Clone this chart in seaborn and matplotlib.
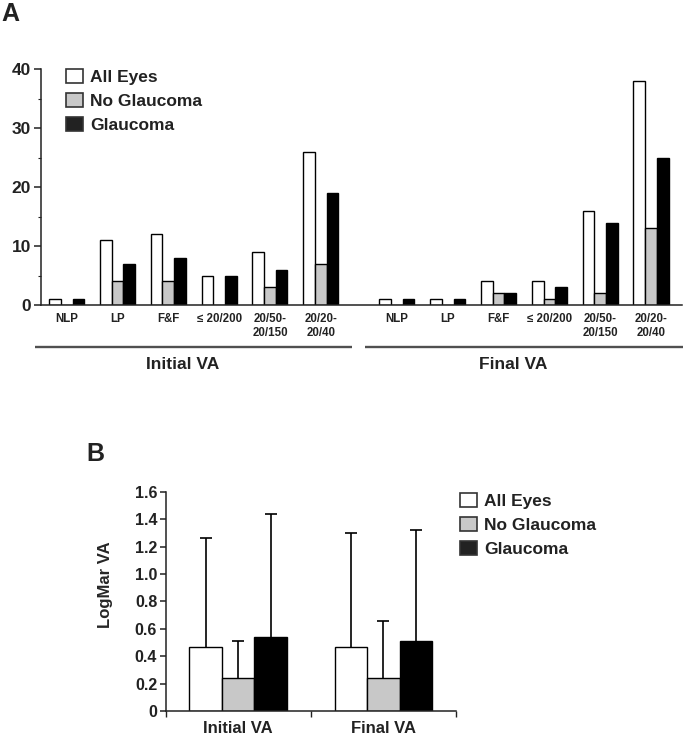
import numpy as np
import pandas as pd
import matplotlib
matplotlib.use("Agg")
import matplotlib.pyplot as plt
from matplotlib.patches import Patch
import seaborn as sns

# Panel A: number of eyes per visual acuity class
va_classes = ["NLP", "LP", "F&F", "\u2264 20/200", "20/50-\n20/150", "20/20-\n20/40"]
periods = ["Initial VA", "Final VA"]
groups = ["All Eyes", "No Glaucoma", "Glaucoma"]

initial_all = [1, 11, 12, 5, 9, 26]
initial_no_glc = [0, 4, 4, 0, 3, 7]
initial_glc = [1, 7, 8, 5, 6, 19]
final_all = [1, 1, 4, 4, 16, 38]
final_no_glc = [0, 0, 2, 1, 2, 13]
final_glc = [1, 1, 2, 3, 14, 25]

# Panel B: mean LogMAR VA and upper SD
logmar_mean_all = [0.47, 0.47]
logmar_mean_no_glc = [0.24, 0.24]
logmar_mean_glc = [0.54, 0.51]
logmar_sd_all = [0.79, 0.83]
logmar_sd_no_glc = [0.27, 0.42]
logmar_sd_glc = [0.90, 0.81]

colors = ["#ffffff", "#c8c8c8", "#000000"]
legend_colors = ["#ffffff", "#c8c8c8", "#222222"]

sns.set_style("ticks")
plt.rcParams["font.family"] = ["Liberation Sans", "DejaVu Sans"]
plt.rcParams["font.weight"] = "bold"
plt.rcParams["axes.edgecolor"] = "#222222"
plt.rcParams["axes.linewidth"] = 1.1
plt.rcParams["xtick.color"] = "#222222"
plt.rcParams["ytick.color"] = "#222222"
plt.rcParams["text.color"] = "#222222"

W, H = 685, 738
fig = plt.figure(figsize=(W / 100, H / 100), dpi=100)
ax_a = fig.add_axes([40.7 / W, 1 - 305 / H, (682 - 40.7) / W, (305 - 69.3) / H])
ax_b = fig.add_axes([165.5 / W, 1 - 711 / H, (456 - 165.5) / W, (711 - 491.7) / H])

# ---- Panel A ----
GROUP_GAP = 6.5
tables = [[initial_all, initial_no_glc, initial_glc],
          [final_all, final_no_glc, final_glc]]
rows = []
positions = []
for p, series in enumerate(tables):
    for i, cls in enumerate(va_classes):
        pos = i + p * GROUP_GAP
        positions.append(pos)
        for g, vals in zip(groups, series):
            rows.append({"pos": pos, "group": g, "count": vals[i]})
df_a = pd.DataFrame(rows)

sns.barplot(data=df_a, x="pos", y="count", hue="group", hue_order=groups,
            palette=colors, native_scale=True, width=0.69, saturation=1,
            edgecolor="black", linewidth=1, errorbar=None, legend=False, ax=ax_a)

ax_a.set_xlim(-0.512, 12.11)
ax_a.set_ylim(0, 40)
ax_a.set_xticks(positions)
ax_a.set_xticklabels(va_classes * 2, fontsize=8.3, fontweight="bold", linespacing=1.2)
ax_a.tick_params(axis="x", length=0, pad=6)
ax_a.set_yticks([0, 10, 20, 30, 40])
ax_a.set_yticks([5, 15, 25, 35], minor=True)
ax_a.tick_params(axis="y", which="major", length=5, width=1.1, labelsize=12.5, pad=2)
ax_a.tick_params(axis="y", which="minor", length=2.5, width=0.8)
for lbl in ax_a.get_yticklabels():
    lbl.set_fontweight("bold")
ax_a.set_xlabel("")
ax_a.set_ylabel("")
sns.despine(ax=ax_a)

trans = ax_a.get_xaxis_transform()
for p, name in enumerate(periods):
    center = 2.5 + p * GROUP_GAP
    ax_a.plot([center - 3.12, center + 3.12], [-0.177, -0.177], transform=trans,
              clip_on=False, color="#505050", lw=1.7, solid_capstyle="butt")
    ax_a.text(center - 0.22, -0.2715, name, transform=trans, ha="center",
              va="baseline", fontsize=12.5, fontweight="bold")

handles = [Patch(facecolor=c, edgecolor="#333333", linewidth=1.2) for c in legend_colors]
ax_a.legend(handles, groups, loc="upper left", bbox_to_anchor=(66 / W, 1 - 69 / H),
            bbox_transform=fig.transFigure, frameon=False,
            handlelength=1.0, handleheight=0.9, handletextpad=0.4,
            labelspacing=0.45, borderpad=0, borderaxespad=0,
            prop={"weight": "bold", "size": 12.5})

# ---- Panel B ----
means = [logmar_mean_all, logmar_mean_no_glc, logmar_mean_glc]
sds = [logmar_sd_all, logmar_sd_no_glc, logmar_sd_glc]
rows = []
for g, m in zip(groups, means):
    for period, v in zip(periods, m):
        rows.append({"period": period, "group": g, "logmar": v})
df_b = pd.DataFrame(rows)

sns.barplot(data=df_b, x="period", y="logmar", hue="group", hue_order=groups,
            order=periods, palette=colors, width=0.67, saturation=1,
            edgecolor="black", linewidth=1, errorbar=None, legend=False, ax=ax_b)

# one-sided (upper) SD bars
for cont, m, s in zip(ax_b.containers, means, sds):
    xs = [bar.get_x() + bar.get_width() / 2 for bar in cont]
    _, caps, _ = ax_b.errorbar(xs, m, yerr=[np.zeros(len(s)), s], fmt="none",
                               ecolor="black", elinewidth=1.2, capsize=4.5,
                               capthick=1.2, zorder=1)
    for cap in caps:
        if np.allclose(cap.get_ydata(), m):
            cap.set_visible(False)

ax_b.set_xlim(-0.5, 1.5)
ax_b.set_ylim(0, 1.6)
ax_b.set_yticks(np.arange(0, 1.61, 0.2))
ax_b.set_yticklabels(["0"] + ["%.1f" % v for v in np.arange(0.2, 1.61, 0.2)],
                     fontsize=11.5, fontweight="bold")
ax_b.tick_params(axis="y", length=4, width=1.1, pad=2)
ax_b.set_xticks([0, 1])
ax_b.set_xticklabels(periods, fontsize=12, fontweight="bold")
ax_b.tick_params(axis="x", which="major", length=0, pad=7)
ax_b.set_xticks([-0.5, 0.5, 1.5], minor=True)
ax_b.tick_params(axis="x", which="minor", length=4, width=1.0)
ax_b.set_xlabel("")
ax_b.set_ylabel("LogMar VA", fontsize=12, fontweight="bold")
ax_b.yaxis.set_label_coords(-0.18, 0.575)
sns.despine(ax=ax_b)

fig.legend(handles, groups, loc="upper left", bbox_to_anchor=(460 / W, 1 - 493 / H),
           frameon=False, handlelength=1.0, handleheight=0.9, handletextpad=0.4,
           labelspacing=0.45, borderpad=0, borderaxespad=0,
           prop={"weight": "bold", "size": 12.5})

fig.text(1 / W, 1 - 2 / H, "A", fontsize=18, fontweight="bold", va="top", ha="left")
fig.text(86 / W, 1 - 442 / H, "B", fontsize=18, fontweight="bold", va="top", ha="left")

fig.savefig("out.png", dpi=100, facecolor="white")
